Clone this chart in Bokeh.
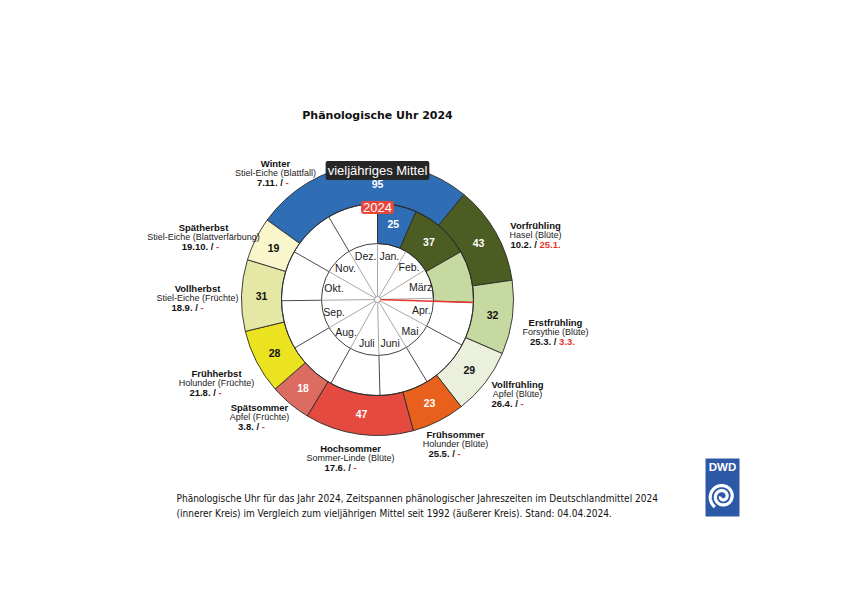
import numpy as np
from bokeh.plotting import figure
from bokeh.models import Range1d, Label, ColumnDataSource
from bokeh.core.properties import value
from bokeh.embed import file_html
from bokeh.resources import INLINE

# ---------------- data ----------------
chart_title = "Phänologische Uhr 2024"
phases = ["Winter", "Vorfrühling", "Erstfrühling", "Vollfrühling", "Frühsommer",
          "Hochsommer", "Spätsommer", "Frühherbst", "Vollherbst", "Spätherbst"]
indicators = ["Stiel-Eiche (Blattfall)", "Hasel (Blüte)", "Forsythie (Blüte)", "Apfel (Blüte)",
              "Holunder (Blüte)", "Sommer-Linde (Blüte)", "Apfel (Früchte)", "Holunder (Früchte)",
              "Stiel-Eiche (Früchte)", "Stiel-Eiche (Blattverfärbung)"]
mean_start = ["7.11.", "10.2.", "25.3.", "26.4.", "25.5.", "17.6.", "3.8.", "21.8.", "18.9.", "19.10."]
mean_days = [95, 43, 32, 29, 23, 47, 18, 28, 31, 19]
start_2024 = ["-", "25.1.", "3.3.", "-", "-", "-", "-", "-", "-", "-"]
phase_colors = ["#2f6db5", "#4b5d23", "#c6d9a0", "#eaf0dc", "#e8601c",
                "#e54a40", "#dc6b60", "#ebe31f", "#e5e8a5", "#f8f6ca"]

seg2024_phase = ["Winter", "Vorfrühling", "Erstfrühling"]
seg2024_start = ["1.1.", "25.1.", "3.3."]
seg2024_end = ["25.1.", "3.3.", "4.4."]
seg2024_days = ["25", "37", ""]
stand_date = "4.4."

months = ["Jan.", "Feb.", "März", "Apr.", "Mai", "Juni", "Juli", "Aug.", "Sep.", "Okt.", "Nov.", "Dez."]
month_len = [31, 28, 31, 30, 31, 30, 31, 31, 30, 31, 30, 31]

caption1 = ("Phänologische Uhr für das Jahr 2024, Zeitspannen phänologischer Jahreszeiten "
            "im Deutschlandmittel 2024")
caption2 = ("(innerer Kreis) im Vergleich zum vieljährigen Mittel seit 1992 (äußerer Kreis). "
            "Stand: 04.04.2024.")

# ---------------- helpers ----------------
W, H = 826, 579
cum = np.concatenate([[0], np.cumsum(month_len)[:-1]])


def X(xi):
    return xi


def Y(yi):
    return H - yi


def doy(s):
    d, m = s.strip(".").split(".")
    return cum[int(m) - 1] + int(d) - 1


def theta(s):
    return doy(s) / 365.0 * 2 * np.pi


cx, cy = X(377), Y(299)
R_OUT, R_MID, R_MON = 136, 96, 56
R_NUM_OUT, R_NUM_IN, R_MON_LBL = 116, 77, 45


def pos(th, r):
    return cx + r * np.sin(th), cy + r * np.cos(th)


FONT = value("Liberation Sans")

p = figure(width=W, height=H, x_range=Range1d(0, W), y_range=Range1d(0, H),
           output_backend="svg", toolbar_location=None, min_border=0,
           x_axis_location=None, y_axis_location=None)
p.grid.visible = False
p.outline_line_color = None
p.background_fill_color = "white"
p.border_fill_color = "white"

# ---------------- outer ring (long-term mean) ----------------
n = len(phases)
t_start = np.array([theta(s) for s in mean_start])
t_end = np.array([theta(mean_start[(i + 1) % n]) for i in range(n)])
t_end = np.where(t_end <= t_start, t_end + 2 * np.pi, t_end)
outer = ColumnDataSource(dict(
    s=np.pi / 2 - t_end, e=np.pi / 2 - t_start, c=phase_colors))
p.annular_wedge(x=cx, y=cy, inner_radius=R_MID, outer_radius=R_OUT,
                start_angle="s", end_angle="e", fill_color="c",
                line_color="#2b2b2b", line_width=0.9, source=outer)

# ---------------- inner ring month dividers ----------------
t_mon = cum / 365.0 * 2 * np.pi
p.segment(x0=cx + R_MON * np.sin(t_mon), y0=cy + R_MON * np.cos(t_mon),
          x1=cx + R_MID * np.sin(t_mon), y1=cy + R_MID * np.cos(t_mon),
          line_color="#333333", line_width=0.9)

# ---------------- inner ring (2024) ----------------
s24 = np.array([theta(s) for s in seg2024_start])
e24 = np.array([theta(s) for s in seg2024_end])
col24 = [phase_colors[phases.index(ph)] for ph in seg2024_phase]
p.annular_wedge(x=cx, y=cy, inner_radius=R_MON, outer_radius=R_MID,
                start_angle=np.pi / 2 - e24, end_angle=np.pi / 2 - s24,
                fill_color=col24, line_color="#2b2b2b", line_width=0.9)

# circles
p.circle(x=[cx, cx], y=[cy, cy], radius=[R_MID, R_MON], fill_color=None,
         line_color="#2b2b2b", line_width=0.9)

# month spokes
p.segment(x0=cx + 3 * np.sin(t_mon), y0=cy + 3 * np.cos(t_mon),
          x1=cx + R_MON * np.sin(t_mon), y1=cy + R_MON * np.cos(t_mon),
          line_color="#a8a8a8", line_width=1)

# month labels
t_mid_mon = (cum + np.array(month_len) / 2.0) / 365.0 * 2 * np.pi
mx, my = pos(t_mid_mon, R_MON_LBL)
p.text(x=mx, y=my, text=months, text_font=FONT, text_font_size="10.5px",
       text_color="#1a1a1a", text_align="center", text_baseline="middle")

# current date line
t_now = theta(stand_date)
nx, ny = pos(t_now, R_MID)
p.segment(x0=[cx], y0=[cy], x1=[nx], y1=[ny], line_color="#e8352c", line_width=1.5)
p.circle(x=[cx], y=[cy], radius=3, fill_color="white", line_color="#999999", line_width=1)

# numbers outer
t_mid = (t_start + t_end) / 2
t_mid = np.where(np.arange(n) == 0, 0.0, t_mid)  # winter value sits at top
ox, oy = pos(t_mid, R_NUM_OUT)
dark = {"Winter", "Vorfrühling", "Frühsommer", "Hochsommer", "Spätsommer"}
num_col = ["white" if ph in dark else "#111111" for ph in phases]
p.text(x=ox, y=oy, text=[str(v) for v in mean_days], text_font=FONT,
       text_font_style="bold", text_font_size="10.5px", text_color=num_col,
       text_align="center", text_baseline="middle")

# numbers inner
ix, iy = pos((s24 + e24) / 2, R_NUM_IN)
num_col24 = ["white" if ph in dark else "#111111" for ph in seg2024_phase]
p.text(x=ix, y=iy, text=seg2024_days, text_font=FONT,
       text_font_style="bold", text_font_size="10.5px", text_color=num_col24,
       text_align="center", text_baseline="middle")

# ring captions
p.add_layout(Label(x=cx, y=Y(170), text="vieljähriges Mittel", text_font="Liberation Sans",
                   text_font_size="13px", text_color="white", text_align="center",
                   text_baseline="middle", background_fill_color="#262626",
                   padding=2, border_radius=2))
p.add_layout(Label(x=cx, y=Y(207), text="2024", text_font="Liberation Sans",
                   text_font_size="13px", text_color="white", text_align="center",
                   text_baseline="middle", background_fill_color="#e8463c",
                   padding=2, border_radius=3))

# ---------------- phase labels ----------------
blocks = [(275, 163, 272), (535, 225, 535), (555, 322, 552), (517, 384, 507),
          (455, 434, 444), (350, 448, 340), (259, 407, 251), (216, 373, 205),
          (197, 288, 187), (203, 227, 200)]
bw = {c: 0.556 for c in "0123456789"}
bw.update({".": 0.278, "/": 0.278, " ": 0.278, "-": 0.333})
FS = 9.5


def wid(s):
    return sum(bw.get(c, 0.556) for c in s) * FS


tx, ty, px_, py_, bx, by, rx, ry, btxt, rtxt = ([] for _ in range(10))
for i, (bxc, byt, dxc) in enumerate(blocks):
    tx.append(X(bxc)); ty.append(Y(byt))
    px_.append(X(bxc)); py_.append(Y(byt + 9.5))
    black = mean_start[i] + " /"
    red = start_2024[i]
    wb, wr, ws = wid(black), wid(red), wid(" ")
    x0 = dxc - (wb + ws + wr) / 2
    bx.append(X(x0 + wb)); by.append(Y(byt + 19))
    rx.append(X(x0 + wb + ws)); ry.append(Y(byt + 19))
    btxt.append(black); rtxt.append(red)

p.text(x=tx, y=ty, text=phases, text_font=FONT, text_font_style="bold",
       text_font_size="9.5px", text_color="#111111", text_align="center", text_baseline="middle")
p.text(x=px_, y=py_, text=indicators, text_font=FONT, text_font_size="9px",
       text_color="#222222", text_align="center", text_baseline="middle")
p.text(x=bx, y=by, text=btxt, text_font=FONT, text_font_style="bold",
       text_font_size="9.5px", text_color="#111111", text_align="right", text_baseline="middle")
p.text(x=rx, y=ry, text=rtxt, text_font=FONT, text_font_style="bold",
       text_font_size="9.5px", text_color="#e8352c", text_align="left", text_baseline="middle")

# ---------------- title & caption ----------------
p.add_layout(Label(x=X(377), y=Y(115), text=chart_title, text_font="DejaVu Sans",
                   text_font_style="bold", text_font_size="11px", text_color="#111111",
                   text_align="center", text_baseline="middle"))
p.add_layout(Label(x=X(176), y=Y(498), text=caption1, text_font="DejaVu Sans Condensed",
                   text_font_size="10px", text_color="#111111",
                   text_align="left", text_baseline="middle"))
p.add_layout(Label(x=X(176), y=Y(513), text=caption2, text_font="DejaVu Sans Condensed",
                   text_font_size="10px", text_color="#111111",
                   text_align="left", text_baseline="middle"))

# ---------------- DWD logo ----------------
lx, ly = X(722), Y(487)
p.rect(x=[lx], y=[ly], width=34, height=58, fill_color="#2c58a6", line_color=None)
p.add_layout(Label(x=lx, y=Y(466), text="DWD", text_font="Liberation Sans",
                   text_font_style="bold", text_font_size="11.5px", text_color="white",
                   text_align="center", text_baseline="middle"))
tt = np.linspace(0.0, 4.3 * np.pi, 200)
rr = 2.0 + 11.0 * tt / tt[-1]
p.line(x=lx + rr * np.cos(tt + np.pi), y=Y(496) + rr * np.sin(tt + np.pi),
       line_color="white", line_width=3.2)

open("out.html", "w").write(file_html(p, INLINE))
